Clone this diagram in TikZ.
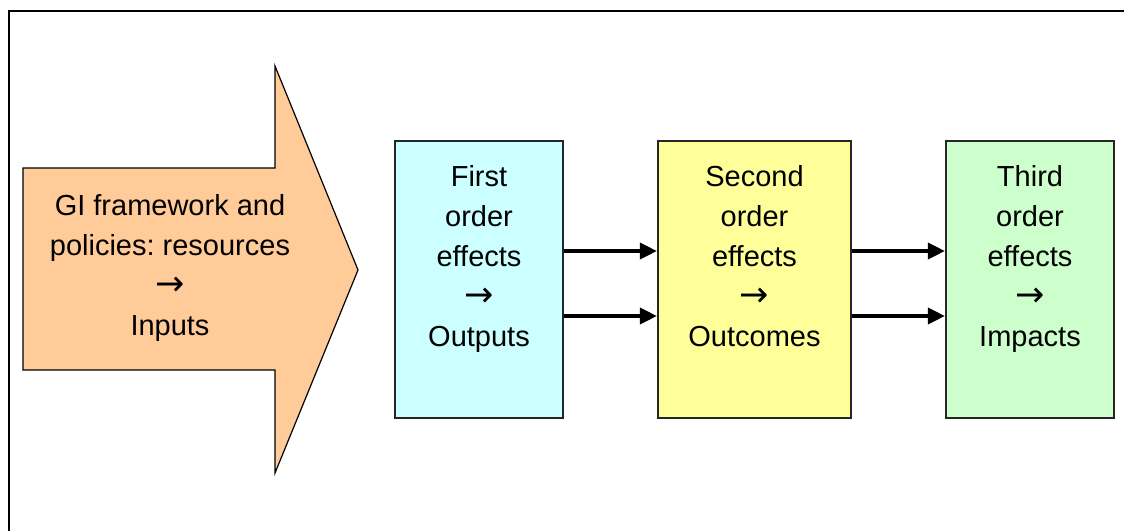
\documentclass[tikz,border=0pt]{standalone}
\usepackage{fontspec}
\setmainfont{Liberation Sans}
\newfontfamily\arrowfont{DejaVu Sans}
\usetikzlibrary{arrows.meta}
\frenchspacing

\definecolor{inputorange}{HTML}{FFCC99}
\definecolor{firstcyan}{HTML}{CCFFFF}
\definecolor{secondyellow}{HTML}{FFFF99}
\definecolor{thirdgreen}{HTML}{CCFFCC}
\newcommand{\effarrow}{{\arrowfont\fontsize{35}{40}\selectfont →}}

\begin{document}
\begin{tikzpicture}[x=1pt, y=-1pt,
            every node/.style={font=\fontsize{29}{40}\selectfont, align=center, inner sep=0pt},
            effect/.style={draw=black!85, line width=2.2pt, minimum height=277pt},
            link/.style={line width=3.5pt, -{Triangle[length=17pt,width=16pt]}},
            ]
            \useasboundingbox (0,0) rectangle (1124,530);
            \draw[line width=2pt] (9,545) -- (9,11) -- (1135,11);

            % big input arrow
            \draw[fill=inputorange, line width=1.2pt] (23,168) -- (275,168) -- (275,66) -- (358,270)
                -- (275,473) -- (275,370) -- (23,370) -- cycle;
            \node (inputs) at (170,267.5) {\strut GI framework and\\policies: resources\\\effarrow\\Inputs\strut};

            % effect boxes
            \node[effect, fill=firstcyan, minimum width=168pt] (first) at (479,279.5) {};
            \node[effect, fill=secondyellow, minimum width=193pt] (second) at (754.5,279.5) {};
            \node[effect, fill=thirdgreen, minimum width=168pt] (third) at (1030,279.5) {};

            \node (first text) at ([yshift=21pt]first.center) {\strut First\\order\\effects\\\effarrow\\Outputs\strut};
            \node (second text) at ([yshift=21pt]second.center) {\strut Second\\order\\effects\\\effarrow\\Outcomes\strut};
            \node (third text) at ([yshift=21pt]third.center) {\strut Third\\order\\effects\\\effarrow\\Impacts\strut};

            \draw[link] ([yshift=28.5pt]first.east) -- ([yshift=28.5pt]second.west);
            \draw[link] ([yshift=-36.5pt]first.east) -- ([yshift=-36.5pt]second.west);
            \draw[link] ([yshift=28.5pt]second.east) -- ([yshift=28.5pt]third.west);
            \draw[link] ([yshift=-36.5pt]second.east) -- ([yshift=-36.5pt]third.west);
\end{tikzpicture}
\end{document}
